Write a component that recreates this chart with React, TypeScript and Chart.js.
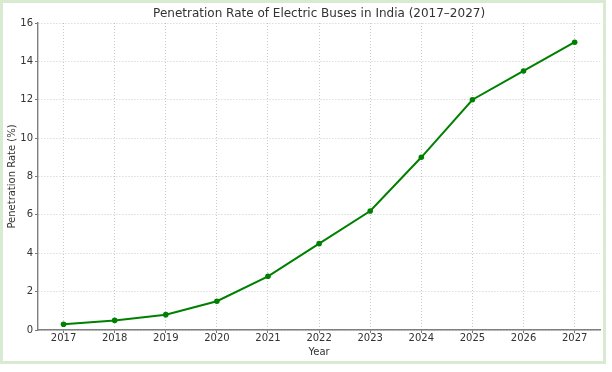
import React, { useEffect, useRef } from "react";
import { Chart, registerables } from "chart.js";

Chart.register(...registerables);

const years = ["2017", "2018", "2019", "2020", "2021", "2022", "2023", "2024", "2025", "2026", "2027"];
const penetration = [0.3, 0.5, 0.8, 1.5, 2.8, 4.5, 6.2, 9.0, 12.0, 13.5, 15.0];
const titleText = "Penetration Rate of Electric Buses in India (2017–2027)";
const xTitle = "Year";
const yTitle = "Penetration Rate (%)";

const FONT = "'DejaVu Sans', sans-serif";
const TEXT = "#333333";
const GRID = "rgba(0,0,0,0.2)";

const titlePlugin = {
  id: "centeredTitle",
  afterDraw(chart: any) {
    const { ctx, chartArea } = chart;
    ctx.save();
    ctx.font = `12px ${FONT}`;
    ctx.fillStyle = TEXT;
    ctx.textAlign = "center";
    ctx.textBaseline = "middle";
    ctx.fillText(titleText, (chartArea.left + chartArea.right) / 2, 10.5);
    ctx.restore();
  },
};

export default function App() {
  const ref = useRef<HTMLCanvasElement>(null);
  useEffect(() => {
    document.body.style.margin = "0";
    const chart = new Chart(ref.current!, {
      type: "line",
      data: {
        labels: years,
        datasets: [
          {
            data: penetration,
            borderColor: "#008000",
            backgroundColor: "#008000",
            borderWidth: 2,
            pointRadius: 2.8,
            pointHoverRadius: 2.8,
            pointBorderWidth: 0,
            tension: 0,
          },
        ],
      },
      options: {
        animation: false,
        responsive: false,
        maintainAspectRatio: false,
        events: [],
        layout: { padding: { left: 0, right: 2, top: 20, bottom: 0 } },
        plugins: { legend: { display: false }, title: { display: false }, tooltip: { enabled: false } },
        scales: {
          x: {
            type: "category",
            offset: true,
            grid: {
              offset: false,
              color: GRID,
              tickColor: "#777",
              tickLength: 3,
              tickBorderDash: [],
            } as any,
            border: { display: true, color: "#7f7f7f", width: 1.4, dash: [1, 2] } as any,
            ticks: { color: TEXT, font: { family: FONT, size: 10 }, padding: -1, maxRotation: 0 },
            title: { display: true, text: xTitle, color: TEXT, font: { family: FONT, size: 10 }, padding: { top: 0, bottom: 3 } },
            afterFit(scale: any) {
              scale.height = 31;
            },
          },
          y: {
            min: 0,
            max: 16,
            ticks: { stepSize: 2, color: TEXT, font: { family: FONT, size: 10 }, padding: 2 },
            grid: {
              color: GRID,
              tickColor: "#777",
              tickLength: 3,
              tickBorderDash: [],
            } as any,
            border: { display: true, color: "#7f7f7f", width: 1.4, dash: [1, 2] } as any,
            title: { display: true, text: yTitle, color: TEXT, font: { family: FONT, size: 10 }, padding: { top: 3, bottom: 0 } },
            afterFit(scale: any) {
              scale.width = 35;
            },
          },
        },
      },
      plugins: [titlePlugin],
    });
    return () => chart.destroy();
  }, []);
  return (
    <div style={{ width: 600, height: 358, border: "3px solid #d9ead3", background: "#fff" }}>
      <canvas ref={ref} width={600} height={358} style={{ display: "block" }} />
    </div>
  );
}
